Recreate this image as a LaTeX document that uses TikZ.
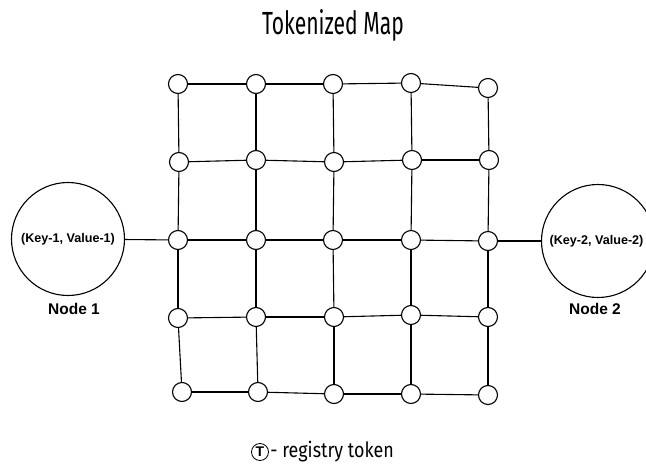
\documentclass[tikz,border=0pt]{standalone}
\usepackage{fontspec}
\setmainfont{Liberation Sans}
\newfontfamily\titlefont[FakeStretch=0.66]{Fira Sans}
\newfontfamily\legendfont[FakeStretch=0.85]{Fira Sans}

\begin{document}
\begin{tikzpicture}[x=1pt,y=-1pt,line width=1.1pt,
  grid node/.style={circle,draw,fill=white,minimum size=19pt,inner sep=0pt},
  peer node/.style={circle,draw,minimum size=113pt,inner sep=0pt,font=\bfseries\fontsize{12.6}{14}\selectfont},
  peer label/.style={font=\bfseries\fontsize{15.5}{17}\selectfont}]

  \useasboundingbox (0,0) rectangle (646,471);

  \node[peer node] (n1) at (68,239) {(Key-1, Value-1)};
  \node[peer node] (n2) at (598,241) {(Key-2, Value-2)\hspace*{3pt}};
  \node[peer label] (n1lbl) at (74,309) {Node 1};
  \node[peer label] (n2lbl) at (595,309) {Node 2};

  \node(title) at (333,25) {\titlefont\fontsize{32}{34}\selectfont Tokenized Map};

  \node[grid node] (g11) at (178,84) {};
  \node[grid node] (g12) at (256,84) {};
  \node[grid node] (g13) at (333,84) {};
  \node[grid node] (g14) at (411,83) {};
  \node[grid node] (g15) at (488,88) {};
  \node[grid node] (g21) at (179,162) {};
  \node[grid node] (g22) at (256,160) {};
  \node[grid node] (g23) at (334,162) {};
  \node[grid node] (g24) at (412,160) {};
  \node[grid node] (g25) at (489,160) {};
  \node[grid node] (g31) at (178,240) {};
  \node[grid node] (g32) at (256,240) {};
  \node[grid node] (g33) at (333,240) {};
  \node[grid node] (g34) at (411,240) {};
  \node[grid node] (g35) at (488,241) {};
  \node[grid node] (g41) at (178,318) {};
  \node[grid node] (g42) at (256,317) {};
  \node[grid node] (g43) at (334,317) {};
  \node[grid node] (g44) at (411,315) {};
  \node[grid node] (g45) at (488,317) {};
  \node[grid node] (g51) at (182,392) {};
  \node[grid node] (g52) at (258,392) {};
  \node[grid node] (g53) at (334,394) {};
  \node[grid node] (g54) at (411,394) {};
  \node[grid node] (g55) at (488,395) {};

  \node[circle,draw,line width=0.8pt,minimum size=17pt,inner sep=0pt,
        font=\bfseries\fontsize{14}{14}\selectfont] (tok) at (260,452) {T};
  \node[anchor=west,inner sep=0pt] (legend) at ([xshift=1pt]tok.east)
        {\legendfont\fontsize{21}{23}\selectfont - registry token};

  \path
    (n1) edge (g31)
    (g35) edge (n2)
    (g11) edge (g12)
    (g12) edge (g13)
    (g13) edge (g14)
    (g14) edge (g15)
    (g21) edge (g22)
    (g22) edge (g23)
    (g23) edge (g24)
    (g24) edge (g25)
    (g31) edge (g32)
    (g32) edge (g33)
    (g33) edge (g34)
    (g34) edge (g35)
    (g41) edge (g42)
    (g42) edge (g43)
    (g43) edge (g44)
    (g44) edge (g45)
    (g51) edge (g52)
    (g52) edge (g53)
    (g53) edge (g54)
    (g54) edge (g55)
    (g11) edge (g21)
    (g21) edge (g31)
    (g31) edge (g41)
    (g41) edge (g51)
    (g12) edge (g22)
    (g22) edge (g32)
    (g32) edge (g42)
    (g42) edge (g52)
    (g13) edge (g23)
    (g23) edge (g33)
    (g33) edge (g43)
    (g43) edge (g53)
    (g14) edge (g24)
    (g24) edge (g34)
    (g34) edge (g44)
    (g44) edge (g54)
    (g15) edge (g25)
    (g25) edge (g35)
    (g35) edge (g45)
    (g45) edge (g55)
    ;
\end{tikzpicture}
\end{document}
